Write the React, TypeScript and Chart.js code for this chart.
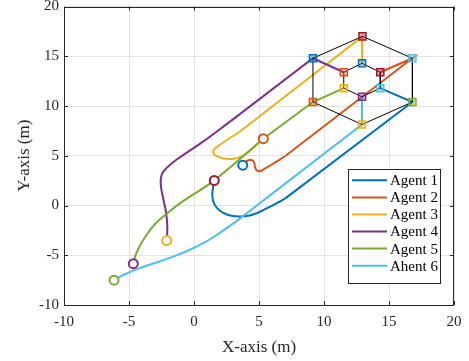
import { useEffect, useRef } from "react";
import { Chart, registerables } from "chart.js";
Chart.register(...registerables);

// ---------- data ----------
const agentNames = ["Agent 1", "Agent 2", "Agent 3", "Agent 4", "Agent 5", "Ahent 6"];
const agentColors = ["#0072BD", "#D95319", "#EDB120", "#7E2F8E", "#77AC30", "#4DBEEE"];
const darkRed = "#A2142F";

// curved (early) part of each trajectory
const agent1X = [1.56, 1.48, 1.41, 1.56, 2.0, 2.64, 3.41, 4.18, 4.95, 5.98, 7.0];
const agent1Y = [2.52, 1.96, 0.96, 0.14, -0.53, -0.96, -1.1, -1.03, -0.7, -0.03, 0.69];
const agent2X = [3.75, 3.92, 4.18, 4.48, 4.64, 4.69, 4.82, 5.08, 5.41, 5.98, 7.0];
const agent2Y = [4.05, 4.35, 4.55, 4.55, 4.28, 3.88, 3.55, 3.45, 3.68, 4.12, 4.95];
const agent3X = [5.33, 3.92, 2.9, 1.87, 1.48, 2.0, 3.54];
const agent3Y = [6.71, 5.12, 4.68, 4.88, 5.45, 6.11, 7.44];
const agent4X = [-2.1, -2.05, -2.15, -2.36, -2.56, -2.48, -2.1, -1.33, 0.72, 2.77];
const agent4Y = [-3.53, -2.2, -0.7, 0.63, 2.13, 3.13, 3.78, 4.62, 6.44, 8.43];
const agent5X = [-4.67, -4.59, -4.28, -3.77, -3.0, -1.98, -0.82, 1.48, 5.33];
const agent5Y = [-5.85, -5.35, -4.35, -3.19, -1.86, -0.7, 0.46, 2.45, 6.71];
const agent6X = [-6.15, -5.31, -4.28, -3.0, -1.72, -0.44, 0.85, 1.87, 3.15];
const agent6Y = [-7.5, -6.91, -6.34, -5.78, -5.19, -4.52, -3.69, -2.85, -1.7];

const startX = [1.56, 3.75, 5.33, -2.1, -4.67, -6.15];
const startY = [2.52, 4.05, 6.71, -3.53, -5.85, -7.5];
const startColors = [darkRed, "#0072BD", "#D95319", "#EDB120", "#7E2F8E", "#77AC30"];

// outer formation vertex reached by each agent, then inner vertex
const outerX = [16.8, 16.8, 12.96, 9.15, 9.15, 12.92];
const outerY = [10.4, 14.8, 17.0, 14.8, 10.4, 8.14];
const outerColors = ["#77AC30", "#4DBEEE", darkRed, "#0072BD", "#D95319", "#EDB120"];

const innerX = [14.33, 14.33, 12.93, 11.52, 11.52, 12.93];
const innerY = [11.79, 13.39, 14.29, 13.39, 11.79, 10.93];
const innerColors = ["#4DBEEE", darkRed, "#0072BD", "#D95319", "#EDB120", "#7E2F8E"];

const outerHexX = [12.96, 16.8, 16.8, 12.92, 9.15, 9.15, 12.96];
const outerHexY = [17.0, 14.8, 10.4, 8.14, 10.4, 14.8, 17.0];
const innerHexX = [12.93, 14.33, 14.33, 12.93, 11.52, 11.52, 12.93];
const innerHexY = [14.29, 13.39, 11.79, 10.93, 11.79, 13.39, 14.29];

const xTicks = [-10, -5, 0, 5, 10, 15, 20];
const yTicks = [-10, -5, 0, 5, 10, 15, 20];

const agentXs = [agent1X, agent2X, agent3X, agent4X, agent5X, agent6X];
const agentYs = [agent1Y, agent2Y, agent3Y, agent4Y, agent5Y, agent6Y];

const pts = (xs: number[], ys: number[]) => xs.map((x, i) => ({ x, y: ys[i] }));
const alpha = (hex: string, a: number) => {
  const n = parseInt(hex.slice(1), 16);
  return `rgba(${(n >> 16) & 255},${(n >> 8) & 255},${n & 255},${a})`;
};

const FONT = '"Liberation Serif", "Times New Roman", serif';
const AXIS = "#262626";

export default function App() {
  const ref = useRef<HTMLCanvasElement | null>(null);
  useEffect(() => {
    if (!ref.current) return;
    let z = 0;
    const datasets: any[] = [];
    agentXs.forEach((xs, i) => {
      const ys = agentYs[i];
      datasets.push({
        label: agentNames[i],
        data: pts(xs, ys),
        showLine: true,
        borderColor: agentColors[i],
        backgroundColor: agentColors[i],
        borderWidth: 2,
        pointRadius: 0,
        tension: 0.4,
        order: 100 - z++,
      });
      const last = xs.length - 1;
      datasets.push({
        label: agentNames[i] + " (formation)",
        data: [
          { x: xs[last], y: ys[last] },
          { x: outerX[i], y: outerY[i] },
          { x: innerX[i], y: innerY[i] },
        ],
        showLine: true,
        borderColor: agentColors[i],
        backgroundColor: agentColors[i],
        borderWidth: 2,
        pointRadius: 0,
        tension: 0,
        order: 100 - z++,
      });
    });
    [
      [outerHexX, outerHexY],
      [innerHexX, innerHexY],
    ].forEach(([xs, ys]) => {
      datasets.push({
        label: "hex",
        data: pts(xs, ys),
        showLine: true,
        borderColor: "#000000",
        borderWidth: 1,
        pointRadius: 0,
        order: 100 - z++,
      });
    });
    datasets.push({
      label: "start",
      data: pts(startX, startY),
      showLine: false,
      pointStyle: "circle",
      pointRadius: 4.5,
      pointBorderWidth: 2,
      pointBorderColor: startColors,
      pointBackgroundColor: "#ffffff",
      order: 100 - z++,
    });
    [
      [outerX, outerY, outerColors],
      [innerX, innerY, innerColors],
    ].forEach(([xs, ys, cs]: any) => {
      datasets.push({
        label: "sq",
        data: pts(xs, ys),
        showLine: false,
        pointStyle: "rect",
        pointRadius: 5,
        pointBorderWidth: 1.5,
        pointBorderColor: cs,
        pointBackgroundColor: cs.map((c: string) => alpha(c, 0.35)),
        order: 100 - z++,
      });
    });

    const framePlugin = {
      id: "frame",
      afterDraw(chart: any) {
        const { ctx, chartArea } = chart;
        const { left, right, top, bottom } = chartArea;
        const xs = chart.scales.x;
        const ys = chart.scales.y;
        ctx.save();
        ctx.strokeStyle = AXIS;
        ctx.lineWidth = 1;
        ctx.beginPath();
        ctx.rect(Math.round(left) + 0.5, Math.round(top) + 0.5, Math.round(right - left) - 1, Math.round(bottom - top) - 1);
        ctx.stroke();
        ctx.beginPath();
        const tl = 4;
        xTicks.forEach((v) => {
          const p = Math.round(xs.getPixelForValue(v)) + 0.5;
          ctx.moveTo(p, bottom);
          ctx.lineTo(p, bottom - tl);
          ctx.moveTo(p, top);
          ctx.lineTo(p, top + tl);
        });
        yTicks.forEach((v) => {
          const p = Math.round(ys.getPixelForValue(v)) + 0.5;
          ctx.moveTo(left, p);
          ctx.lineTo(left + tl, p);
          ctx.moveTo(right, p);
          ctx.lineTo(right - tl, p);
        });
        ctx.stroke();

        // legend
        const bx = 348.5, by = 169.5, bw = 92, bh = 114;
        ctx.fillStyle = "#ffffff";
        ctx.fillRect(bx, by, bw, bh);
        ctx.strokeStyle = AXIS;
        ctx.strokeRect(bx, by, bw, bh);
        ctx.font = `15px ${FONT}`;
        ctx.textBaseline = "middle";
        ctx.textAlign = "left";
        agentNames.forEach((name, i) => {
          const y = 180.3 + i * 17.08;
          ctx.strokeStyle = agentColors[i];
          ctx.lineWidth = 2;
          ctx.beginPath();
          ctx.moveTo(352, y);
          ctx.lineTo(387, y);
          ctx.stroke();
          ctx.fillStyle = "#000000";
          ctx.fillText(name, 390, y + 1);
        });
        ctx.restore();
      },
    };

    const chart = new Chart(ref.current, {
      type: "scatter",
      data: { datasets },
      options: {
        animation: false,
        responsive: false,
        devicePixelRatio: 1,
        layout: { padding: { left: 0, top: 4, right: 15, bottom: 0 } },
        plugins: { legend: { display: false }, tooltip: { enabled: false } },
        scales: {
          x: {
            type: "linear",
            min: -10,
            max: 20,
            afterFit: (s: any) => {
              s.height = 56;
              s.paddingLeft = 0;
              s.paddingRight = 0;
            },
            afterBuildTicks: (s: any) => {
              s.ticks = xTicks.map((v) => ({ value: v }));
            },
            ticks: { color: AXIS, font: { family: FONT, size: 15 }, padding: 8, maxRotation: 0 },
            grid: { color: "#e3e3e3", drawTicks: false },
            border: { display: false },
            title: {
              display: true,
              text: "X-axis (m)",
              color: AXIS,
              font: { family: FONT, size: 17 },
              padding: { top: 0, bottom: 3 },
            },
          },
          y: {
            type: "linear",
            min: -10,
            max: 20,
            afterFit: (s: any) => {
              s.width = 64;
              s.paddingTop = 0;
              s.paddingBottom = 0;
            },
            afterBuildTicks: (s: any) => {
              s.ticks = yTicks.map((v) => ({ value: v }));
            },
            ticks: { color: AXIS, font: { family: FONT, size: 15 }, padding: 5 },
            grid: { color: "#e3e3e3", drawTicks: false },
            border: { display: false },
            title: {
              display: true,
              text: "Y-axis (m)",
              color: AXIS,
              font: { family: FONT, size: 17 },
              padding: { top: 14, bottom: 0 },
            },
          },
        },
      },
      plugins: [framePlugin],
    });
    return () => chart.destroy();
  }, []);

  return (
    <div style={{ position: "absolute", left: 0, top: 0, width: 469, height: 361, background: "#fff" }}>
      <canvas ref={ref} width={469} height={361} />
    </div>
  );
}
